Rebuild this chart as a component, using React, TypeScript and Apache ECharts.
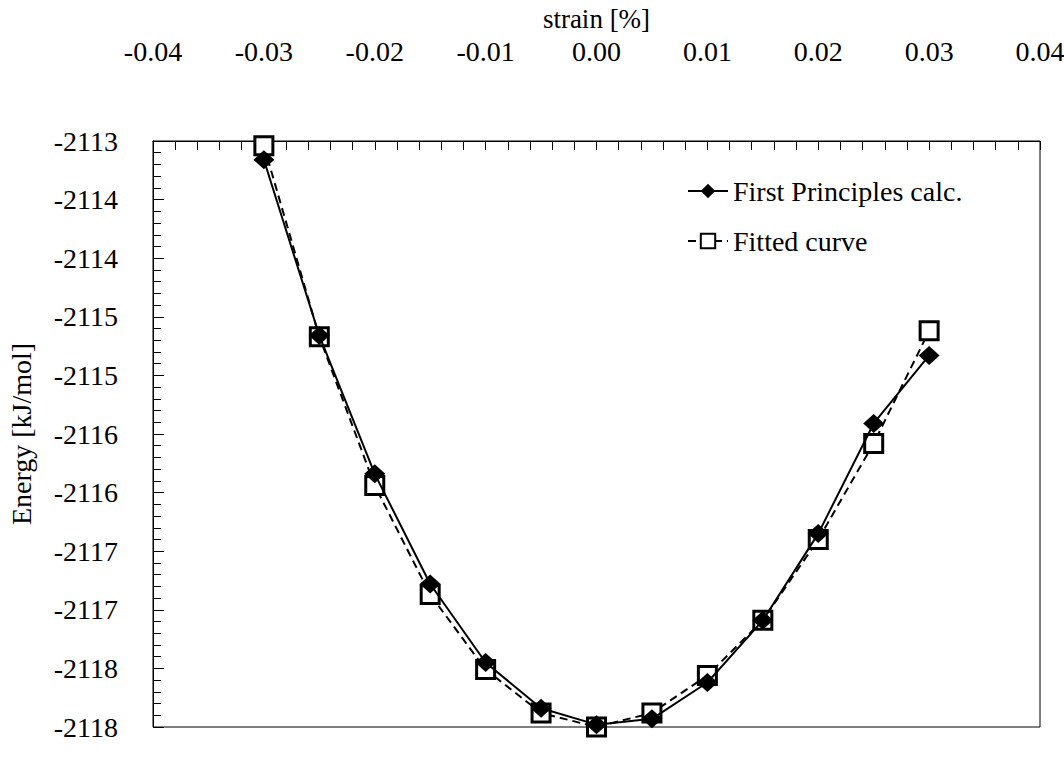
import React, { useEffect, useRef } from "react";
import * as echarts from "echarts";

const strain = [-0.03, -0.025, -0.02, -0.015, -0.01, -0.005, 0, 0.005, 0.01, 0.015, 0.02, 0.025, 0.03];
const firstPrinciples = [-2113.16, -2114.66, -2115.84, -2116.78, -2117.45, -2117.84, -2117.98, -2117.93, -2117.62, -2117.09, -2116.35, -2115.41, -2114.83];
const fitted = [-2113.04, -2114.67, -2115.94, -2116.87, -2117.51, -2117.88, -2118.0, -2117.88, -2117.56, -2117.09, -2116.4, -2115.58, -2114.62];
const seriesNames = ["First Principles calc.", "Fitted curve"];
const xTitle = "strain [%]";
const yTitle = "Energy [kJ/mol]";

const FONT = "Liberation Serif, Times New Roman, serif";

export default function App() {
  const ref = useRef<HTMLDivElement>(null);
  useEffect(() => {
    if (!ref.current) return;
    const chart = echarts.init(ref.current, null, { renderer: "svg" });
    chart.setOption({
      animation: false,
      backgroundColor: "#fff",
      textStyle: { fontFamily: FONT, color: "#000" },
      grid: {
        left: 153, right: 24, top: 141, bottom: 35,
        outerBoundsMode: "none",
        containLabel: false,
        show: true, borderColor: "#000", borderWidth: 1, backgroundColor: "transparent",
      },
      legend: {
        data: seriesNames,
        orient: "vertical",
        left: 682,
        top: 172,
        itemWidth: 40,
        itemHeight: 18,
        itemGap: 22,
        textStyle: { fontFamily: FONT, fontSize: 28, color: "#000" },
      },
      xAxis: {
        type: "value",
        position: "top",
        min: -0.04,
        max: 0.04,
        interval: 0.01,
        name: xTitle,
        nameLocation: "middle",
        nameGap: 108,
        nameTextStyle: { fontFamily: FONT, fontSize: 27, color: "#000" },
        axisLine: { onZero: false, lineStyle: { color: "#000", width: 1 } },
        axisTick: { inside: true, length: 9, lineStyle: { color: "#000" } },
        minorTick: { show: true, splitNumber: 5, length: 9, lineStyle: { color: "#000" } },
        splitLine: { show: false },
        axisLabel: {
          fontFamily: FONT, fontSize: 28, color: "#000", margin: 76,
          formatter: (v: number) => v.toFixed(2),
        },
      },
      yAxis: {
        type: "value",
        min: -2118,
        max: -2113,
        interval: 0.5,
        name: yTitle,
        nameLocation: "middle",
        nameGap: 118,
        nameTextStyle: { fontFamily: FONT, fontSize: 28, color: "#000" },
        axisLine: { show: true, onZero: false, lineStyle: { color: "#000", width: 1 } },
        axisTick: { inside: true, length: 11, lineStyle: { color: "#000" } },
        minorTick: { show: true, splitNumber: 5, length: 8, lineStyle: { color: "#000" } },
        splitLine: { show: false },
        axisLabel: {
          fontFamily: FONT, fontSize: 28, color: "#000", margin: 35,
          formatter: (v: number) => v.toFixed(0),
        },
      },
      series: [
        {
          name: seriesNames[1],
          type: "line",
          data: strain.map((x, i) => [x, fitted[i]]),
          symbol: "rect",
          symbolSize: 18,
          itemStyle: { color: "#fff", borderColor: "#000", borderWidth: 3 },
          lineStyle: { color: "#000", width: 2, type: [8, 5] },
          z: 2,
        },
        {
          name: seriesNames[0],
          type: "line",
          data: strain.map((x, i) => [x, firstPrinciples[i]]),
          symbol: "diamond",
          symbolSize: [21, 19],
          itemStyle: { color: "#000" },
          lineStyle: { color: "#000", width: 2 },
          z: 3,
        },
      ],
    });
    return () => chart.dispose();
  }, []);
  return (
    <div
      ref={ref}
      style={{ position: "absolute", left: 0, top: 0, width: 1064, height: 762 }}
    />
  );
}
